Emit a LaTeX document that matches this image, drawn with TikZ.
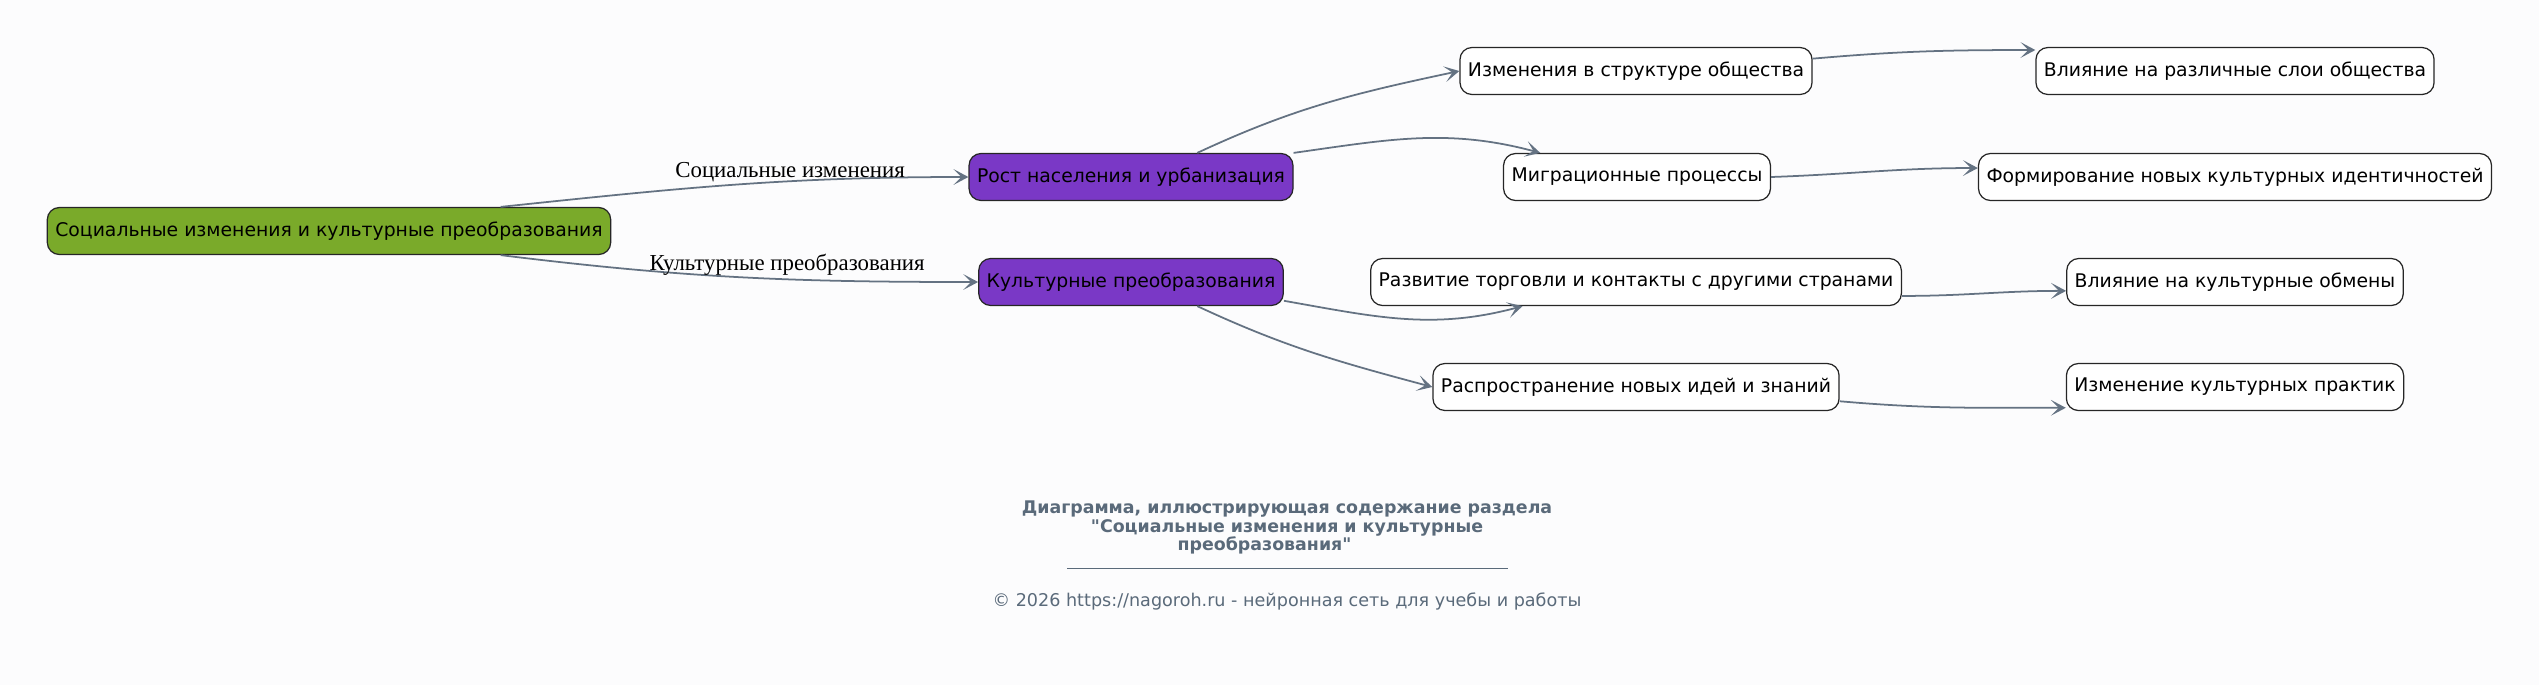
\documentclass[tikz,border=0pt]{standalone}
\usepackage{fontspec}
\usepackage{tikz}
\usetikzlibrary{arrows.meta,shapes.misc}
\newfontfamily\nodefont{DejaVu Sans}
\newfontfamily\edgefont{Liberation Serif}
\definecolor{rootgreen}{RGB}{122,170,42}
\definecolor{midpurple}{RGB}{122,56,198}
\definecolor{edgegray}{RGB}{100,114,130}
\definecolor{capgray}{RGB}{90,106,122}
\definecolor{bgpaper}{RGB}{252,252,253}

\begin{document}
\begin{tikzpicture}
    [every node/.style={draw=black!85, rounded corners=0.24cm, line width=0.7pt, minimum height=0.94cm,
      inner xsep=0.16cm, font=\nodefont\fontsize{10.7}{12}\selectfont, fill=white},
     rootbox/.style={fill=rootgreen},
     midbox/.style={fill=midpurple},
     link/.style={draw=edgegray, line width=1pt, -{Stealth[length=8.5pt,width=9pt,inset=4.5pt]}},
     linklabel/.style={draw=none, fill=none, rounded corners=0pt, minimum height=0pt, inner sep=1pt,
      font=\edgefont\fontsize{13}{15}\selectfont},
     plain/.style={draw=none, fill=none, rounded corners=0pt, minimum height=0pt, text=capgray}]
    \fill[bgpaper] (0,0) rectangle (50.78,-13.7);
    \useasboundingbox (0,0) rectangle (50.78,-13.7);

    \node[rootbox] (root) at (6.58, -4.62) {Социальные изменения и культурные преобразования};
    \node[midbox] (grow) at (22.62, -3.54) {Рост населения и урбанизация};
    \node[midbox] (cult) at (22.62, -5.64) {Культурные преобразования};

    \node (struct) at (32.72, -1.42) {Изменения в структуре общества};
    \node (migr) at (32.74, -3.54) {Миграционные процессы};
    \node (trade) at (32.72, -5.64) {Развитие торговли и контакты с другими странами};
    \node (ideas) at (32.72, -7.74) {Распространение новых идей и знаний};

    \node (layers) at (44.70, -1.42) {Влияние на различные слои общества};
    \node (ident) at (44.70, -3.54) {Формирование новых культурных идентичностей};
    \node (exch) at (44.70, -5.64) {Влияние на культурные обмены};
    \node (pract) at (44.70, -7.74) {Изменение культурных практик};

    \draw[link] (root.8) to[out=6,in=180]
      node[linklabel, pos=0.63, above=-1.5pt] (lsoc) {Социальные изменения} (grow.west);
    \draw[link] (root.-8) to[out=-7,in=180]
      node[linklabel, pos=0.61, above=1pt] (lcult) {Культурные преобразования} (cult.west);

    \draw[link] (grow.20) to[out=25,in=192] (struct.west);
    \draw[link] (grow.north east) to[out=8,in=165] (migr.166);
    \draw[link] (cult.-7) to[out=-10,in=195] (trade.192);
    \draw[link] (cult.-20) to[out=-25,in=165] (ideas.west);

    \draw[link] (struct.4) to[out=5,in=180] (layers.174);
    \draw[link] (migr.east) to[out=2,in=180] (ident.178);
    \draw[link] (trade.-3) to[out=0,in=180] (exch.183);
    \draw[link] (ideas.-4) to[out=-5,in=180] (pract.187);

    % caption
    \node[plain, align=center, font=\nodefont\bfseries\fontsize{9.9}{10.4}\selectfont] (title) at (25.74, -10.55)
      {Диаграмма, иллюстрирующая содержание раздела\\
       "Социальные изменения и культурные\hspace*{0.9cm}\\
       преобразования"\hspace*{0.9cm}};
    \coordinate (ruleL) at (21.34, -11.36);
    \coordinate (ruleR) at (30.16, -11.36);
    \draw[capgray, line width=0.5pt] (ruleL) -- (ruleR);
    \node[plain, font=\nodefont\fontsize{10}{12}\selectfont] (copy) at (25.74, -12.02)
      {© 2026 https://nagoroh.ru - нейронная сеть для учебы и работы};
\end{tikzpicture}
\end{document}
